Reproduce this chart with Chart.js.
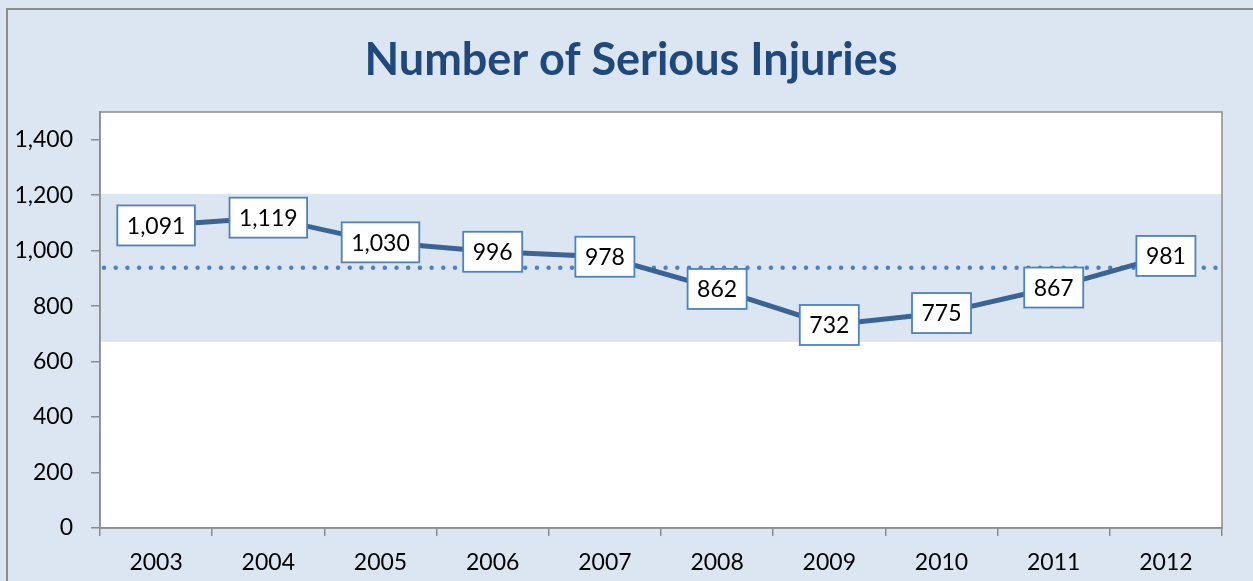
<!DOCTYPE html>
<html>
<head>
<meta charset="utf-8">
<script src="https://cdn.jsdelivr.net/npm/chart.js@4"></script>
<style>
  html, body { margin: 0; padding: 0; background: #dce6f2; }
  canvas { display: block; }
</style>
</head>
<body>
<canvas id="grafico" width="1253" height="581"></canvas>
<script>
// Datos
const years = ['2003', '2004', '2005', '2006', '2007', '2008', '2009', '2010', '2011', '2012'];
const injuries = [1091, 1119, 1030, 996, 978, 862, 732, 775, 867, 981];
const yTicks = [0, 200, 400, 600, 800, 1000, 1200, 1400];
const average = 938;
const bandLow = 671;
const bandHigh = 1205;

const fmt = v => v.toLocaleString('en-US');
Chart.defaults.font.family = 'Lato, "Open Sans", sans-serif';

// Fondo, banda y línea punteada
const fondo = {
  id: 'fondo',
  afterLayout(chart) {
    // centrar el título sobre toda la figura
    if (chart.titleBlock) chart.titleBlock.left = 40;
  },
  beforeDraw(chart) {
    const ctx = chart.ctx;
    const a = chart.chartArea;
    const y = chart.scales.y;
    ctx.save();
    ctx.fillStyle = '#dce6f2';
    ctx.fillRect(0, 0, chart.width, chart.height);
    ctx.strokeStyle = '#8c8c8c';
    ctx.lineWidth = 2;
    ctx.strokeRect(7, 9, chart.width + 20, chart.height + 20);
    ctx.fillStyle = '#ffffff';
    ctx.fillRect(a.left, a.top, a.right - a.left, a.bottom - a.top);
    const yh = y.getPixelForValue(bandHigh);
    const yl = y.getPixelForValue(bandLow);
    ctx.fillStyle = '#dce6f2';
    ctx.fillRect(a.left, yh, a.right - a.left, yl - yh);
    ctx.restore();
  },
  beforeDatasetsDraw(chart) {
    const ctx = chart.ctx;
    const a = chart.chartArea;
    const ym = chart.scales.y.getPixelForValue(average);
    ctx.save();
    ctx.strokeStyle = '#4f81bd';
    ctx.lineWidth = 4.5;
    ctx.lineCap = 'round';
    ctx.setLineDash([0, 11.7]);
    ctx.beginPath();
    ctx.moveTo(a.left + 4, ym);
    ctx.lineTo(a.right, ym);
    ctx.stroke();
    ctx.restore();
    ctx.save();
    ctx.strokeStyle = '#8c8c8c';
    ctx.lineWidth = 1.5;
    ctx.strokeRect(a.left, a.top, a.right - a.left, a.bottom - a.top);
    ctx.restore();
  },
  afterDatasetsDraw(chart) {
    const ctx = chart.ctx;
    const pts = chart.getDatasetMeta(0).data;
    ctx.save();
    ctx.font = '23px Lato, "Open Sans", sans-serif';
    ctx.textAlign = 'center';
    ctx.textBaseline = 'middle';
    pts.forEach((p, i) => {
      const txt = fmt(injuries[i]);
      const w = ctx.measureText(txt).width + 19;
      const h = 40;
      ctx.fillStyle = '#ffffff';
      ctx.fillRect(p.x - w / 2, p.y - h / 2, w, h);
      ctx.strokeStyle = '#4f81bd';
      ctx.lineWidth = 1.8;
      ctx.strokeRect(p.x - w / 2, p.y - h / 2, w, h);
      ctx.fillStyle = '#000000';
      ctx.fillText(txt, p.x, p.y + 1);
    });
    ctx.restore();
  }
};

new Chart(document.getElementById('grafico').getContext('2d'), {
  type: 'line',
  data: {
    labels: years,
    datasets: [{
      label: 'Serious Injuries',
      data: injuries,
      borderColor: '#3b6496',
      borderWidth: 5,
      pointRadius: 0,
      tension: 0,
      fill: false
    }]
  },
  options: {
    responsive: false,
    animation: false,
    layout: { padding: { left: 0, right: 31, top: 0, bottom: 0 } },
    plugins: {
      legend: { display: false },
      tooltip: { enabled: false },
      title: {
        display: true,
        text: 'Number of Serious Injuries',
        color: '#1f497d',
        font: { size: 45, weight: 'bold' },
        padding: { top: 33, bottom: 25 }
      }
    },
    scales: {
      x: {
        offset: true,
        grid: { offset: true, drawOnChartArea: false, drawTicks: true, tickLength: 8, color: '#8c8c8c', lineWidth: 1.5 },
        border: { color: '#8c8c8c', width: 1.5 },
        ticks: { color: '#000', font: { size: 23 }, padding: 13, maxRotation: 0 },
        afterFit(s) { s.height = 53; }
      },
      y: {
        min: 0,
        max: 1500,
        grid: { drawOnChartArea: false, drawTicks: true, tickLength: 9, color: '#8c8c8c', lineWidth: 1.5 },
        border: { color: '#8c8c8c', width: 1.5 },
        ticks: {
          color: '#000',
          font: { size: 23 },
          padding: 18,
          includeBounds: false,
          stepSize: 200,
          callback: v => yTicks.includes(v) ? fmt(v) : null
        },
        afterFit(s) { s.width = 100; }
      }
    }
  },
  plugins: [fondo]
});
</script>
</body>
</html>
